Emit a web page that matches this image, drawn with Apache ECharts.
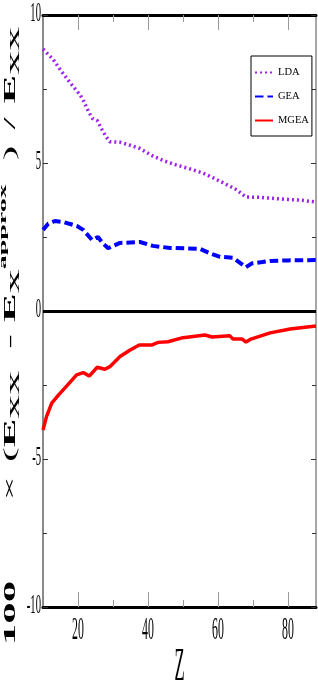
<!DOCTYPE html>
<html><head><meta charset="utf-8">
<script src="https://cdn.jsdelivr.net/npm/echarts@6/dist/echarts.min.js"></script>
<style>html,body{margin:0;padding:0;background:#fff}#c{width:318px;height:686px}</style>
</head><body><div id="c"></div>
<script>
// ---- data ----
const ldaZ = [10, 12.9, 15.3, 17.9, 20.6, 21.7, 22.9, 24.1, 25.5, 26.8, 27.9, 29.1, 32, 34.9, 37.7, 41.5, 44.4, 48.2, 52, 55.7, 58.6, 62, 65.4, 68, 72, 76, 80, 84, 88];
const ldaV = [8.85, 8.5, 8.09, 7.69, 7.3, 7.07, 6.76, 6.51, 6.43, 6.14, 5.91, 5.72, 5.7, 5.6, 5.49, 5.23, 5.08, 4.93, 4.8, 4.66, 4.5, 4.3, 4.09, 3.85, 3.84, 3.8, 3.77, 3.74, 3.68];
const geaZ = [10, 11.5, 13.4, 16, 19.7, 21.5, 24, 25.7, 27, 28.6, 32, 37.7, 41.4, 46.3, 54.9, 57.7, 60.6, 64.3, 68, 69.7, 74.9, 80, 88];
const geaV = [2.74, 2.95, 3.04, 3.0, 2.87, 2.74, 2.4, 2.5, 2.3, 2.12, 2.3, 2.33, 2.2, 2.13, 2.1, 1.95, 1.83, 1.8, 1.48, 1.61, 1.69, 1.71, 1.72];
const mgeaZ = [10, 11, 12.5, 14.4, 16.8, 19.6, 21.5, 23.2, 25.5, 27.7, 29.1, 32, 34.9, 37.5, 41, 42.9, 45.7, 50, 56.3, 58.3, 63.4, 64.3, 66.9, 68, 69.4, 74.9, 80.6, 88];
const mgeaV = [-4.02, -3.57, -3.11, -2.84, -2.53, -2.16, -2.08, -2.2, -1.9, -1.97, -1.88, -1.54, -1.32, -1.15, -1.15, -1.06, -1.04, -0.9, -0.81, -0.88, -0.84, -0.95, -0.95, -1.05, -0.95, -0.74, -0.61, -0.51];
const seriesNames = ['LDA', 'GEA', 'MGEA'];
const xMajorTicks = [20, 40, 60, 80];
const xMinorTicks = [30, 50, 70];
const xTickLabels = ['20', '40', '60', '80'];
const yTickValues = [10, 5, 0, -5, -10];
const yTickLabels = ['10', '5', '0', '-5', '-10'];
const xName = 'Z';

// ---- chart ----
const FONT = '"Liberation Serif", "Times New Roman", serif';
const pairs = (a, b) => a.map((v, i) => [v, b[i]]);
const chart = echarts.init(document.getElementById('c'), null, {renderer: 'canvas'});

const xBase = {type: 'value', min: 10, max: 88, splitLine: {show: false}, axisLabel: {show: false}};
const tickGray = {color: '#9a9a9a', width: 1};
const yBase = {
  type: 'value', min: -10, max: 10, interval: 5,
  axisLine: {show: true, onZero: false, lineStyle: {color: '#8a8a8a', width: 2}},
  axisTick: {show: true, inside: true, length: 5, lineStyle: {color: '#333', width: 1}},
  minorTick: {show: true, splitNumber: 2, length: 4, lineStyle: {color: '#333', width: 1}},
  axisLabel: {show: false}, splitLine: {show: false}
};

chart.setOption({
  animation: false,
  backgroundColor: '#fff',
  grid: {left: 43, right: 2, top: 15, bottom: 79},
  xAxis: [
    Object.assign({}, xBase, {position: 'bottom', axisLine: {show: true, onZero: false, lineStyle: {color: '#000', width: 3}},
      axisTick: {show: true, inside: true, length: 15, customValues: xMajorTicks, lineStyle: tickGray}}),
    Object.assign({}, xBase, {position: 'bottom', axisLine: {show: false, onZero: false},
      axisTick: {show: true, inside: true, length: 7, customValues: xMinorTicks, lineStyle: tickGray}}),
    Object.assign({}, xBase, {position: 'top', axisLine: {show: true, onZero: false, lineStyle: {color: '#000', width: 3}},
      axisTick: {show: true, inside: true, length: 15, customValues: xMajorTicks, lineStyle: tickGray}}),
    Object.assign({}, xBase, {position: 'top', axisLine: {show: false, onZero: false},
      axisTick: {show: true, inside: true, length: 7, customValues: xMinorTicks, lineStyle: tickGray}})
  ],
  yAxis: [
    Object.assign({}, yBase, {position: 'left'}),
    Object.assign({}, yBase, {position: 'right', axisLine: {show: true, onZero: false, lineStyle: {color: '#8a8a8a', width: 1.5}}})
  ],
  legend: {
    orient: 'vertical', left: 251, top: 56,
    itemWidth: 18, itemHeight: 12, itemGap: 13,
    padding: [11, 3, 10, 3],
    borderColor: '#000', borderWidth: 1, backgroundColor: '#fff',
    itemStyle: {opacity: 0, color: 'transparent', borderWidth: 0},
    textStyle: {fontFamily: FONT, fontSize: 10.5, color: '#000'},
    data: seriesNames
  },
  series: [
    {name: seriesNames[0], type: 'line', data: pairs(ldaZ, ldaV), symbol: 'none', z: 3,
      lineStyle: {color: '#a020f0', width: 3.5, type: [2, 3], cap: 'butt'}, itemStyle: {color: '#a020f0'}},
    {name: seriesNames[1], type: 'line', data: pairs(geaZ, geaV), symbol: 'none', z: 3,
      lineStyle: {color: '#0000ff', width: 4, type: [8.5, 4], cap: 'butt'}, itemStyle: {color: '#0000ff'}},
    {name: seriesNames[2], type: 'line', data: pairs(mgeaZ, mgeaV), symbol: 'none', z: 3,
      lineStyle: {color: '#ff0000', width: 3.5, type: 'solid'}, itemStyle: {color: '#ff0000'},
      markLine: {silent: true, symbol: 'none', label: {show: false},
        lineStyle: {color: '#000', width: 3, type: 'solid'}, data: [{yAxis: 0}]}}
  ]
});

// ---- condensed tick labels and titles placed through the axis scales ----
const g = [];
xTickLabels.forEach((t, i) => {
  const px = chart.convertToPixel({xAxisIndex: 0}, xMajorTicks[i]);
  g.push({type: 'text', x: px, y: 631, scaleX: 0.37, z: 100,
    style: {text: t, fontFamily: FONT, fontSize: 32, fill: '#000', align: 'center', verticalAlign: 'middle'}});
});
yTickLabels.forEach((t, i) => {
  const py = chart.convertToPixel({yAxisIndex: 0}, yTickValues[i]);
  g.push({type: 'text', x: 41, y: py - 1, scaleX: 0.38, z: 100,
    style: {text: t, fontFamily: FONT, fontSize: 28, fill: '#000', align: 'right', verticalAlign: 'middle'}});
});
const gridMid = (chart.convertToPixel({xAxisIndex: 0}, 10) + chart.convertToPixel({xAxisIndex: 0}, 88)) / 2;
g.push({type: 'text', x: gridMid, y: 668, scaleX: 0.36, z: 100,
  style: {text: xName, fontFamily: FONT, fontSize: 46, fill: '#000', align: 'center', verticalAlign: 'middle'}});

const gapStyle = w => ({fontFamily: FONT, fontSize: 10, width: w, lineHeight: 66, verticalAlign: 'middle'});
g.push({type: 'text', x: 10.5, y: 336, rotation: Math.PI / 2, scaleY: 0.38, z: 100,
  style: {
    text: '{b|100}{g80| }{n|×}{g14| }{n|(}{b|E}{sub|xx}{g22| }{n|-}{g12| }{b|E}{sub|x}{sup|approx}{g24| }{n|)}{g16| }{n|/}{g14| }{b|E}{sub|xx}',
    fontFamily: FONT, fontSize: 40, fill: '#000', align: 'center', verticalAlign: 'middle',
    rich: {
      b: {fontFamily: FONT, fontSize: 43, fontWeight: 'bold', lineHeight: 66, verticalAlign: 'middle'},
      n: {fontFamily: FONT, fontSize: 44, lineHeight: 66, verticalAlign: 'middle'},
      sub: {fontFamily: FONT, fontSize: 48, lineHeight: 26, verticalAlign: 'bottom'},
      sup: {fontFamily: FONT, fontSize: 28, fontWeight: 'bold', lineHeight: 22, verticalAlign: 'top'},
      g80: gapStyle(80), g24: gapStyle(24), g22: gapStyle(22), g16: gapStyle(16), g14: gapStyle(14), g12: gapStyle(12)
    }
  }});
chart.setOption({graphic: g});
</script>
</body></html>
